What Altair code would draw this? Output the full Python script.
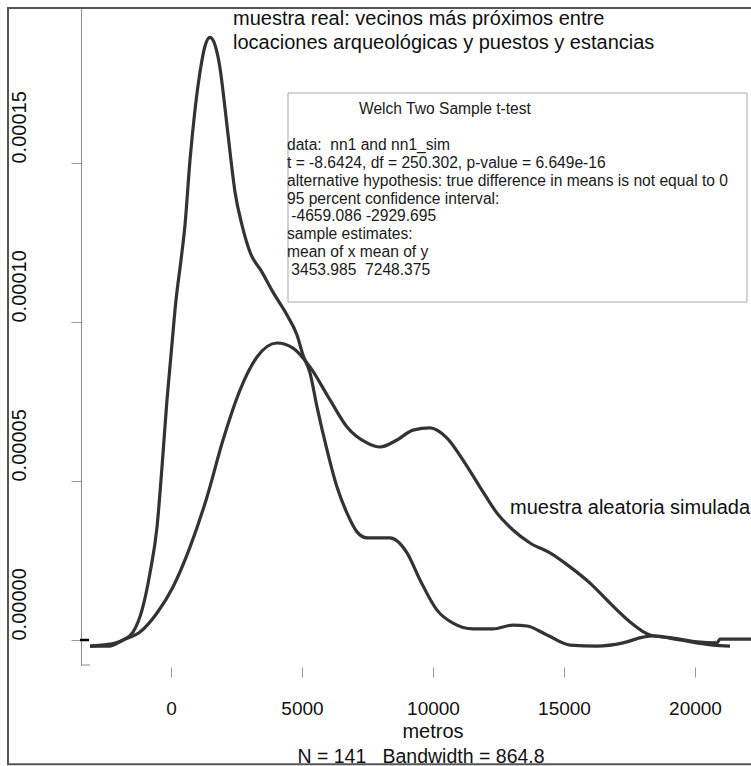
import altair as alt
import pandas as pd

# ---- data (x in metres, density in units of 1e-5) ----
real_x = [-3092, -2328, -1832, -1450, -1107, -802, -534, -344, -153, 0, 191, 382, 534, 725,
          916, 1107, 1298, 1489, 1679, 1870, 2061, 2252, 2443, 2710, 3015, 3473, 3893, 4427,
          4809, 5038, 5305, 5573, 5954, 6336, 6718, 7099, 7481, 8359, 9008, 9504, 10153,
          10763, 11527, 12290, 13053, 13588, 14351, 15229, 16260, 17252, 18015, 18397,
          19427, 20687, 21336]
real_y = [-0.19, -0.13, 0.0, 0.25, 0.94, 2.11, 3.55, 5.44, 7.55, 8.96, 10.69, 11.95, 13.05,
          15.09, 16.67, 17.86, 18.68, 18.95, 18.71, 17.99, 16.73, 15.35, 14.09, 13.05, 12.20,
          11.57, 10.94, 10.22, 9.59, 8.96, 8.40, 7.33, 5.98, 4.81, 3.99, 3.40, 3.21, 3.21,
          2.74, 1.89, 0.94, 0.53, 0.35, 0.35, 0.47, 0.44, 0.16, -0.16, -0.19, -0.09, 0.09,
          0.13, 0.0, -0.16, -0.19]

sim_x = [-3092, -2328, -1832, -1183, -534, 76, 725, 1374, 1985, 2634, 3282, 4046, 4657, 5305,
         6069, 6718, 7481, 7977, 8626, 9237, 9886, 10535, 11145, 11794, 12443, 13053, 13702,
         14466, 15229, 15992, 16756, 17519, 18282, 19160, 20076, 20840, 20950, 22137]
sim_y = [-0.19, -0.19, 0.0, 0.25, 0.85, 1.67, 2.92, 4.50, 6.29, 7.86, 8.90, 9.34, 9.18, 8.59,
         7.55, 6.70, 6.20, 6.07, 6.29, 6.60, 6.67, 6.35, 5.66, 4.81, 3.99, 3.46, 3.05, 2.74,
         2.30, 1.79, 1.16, 0.57, 0.16, 0.06, -0.06, -0.09, 0.03, 0.03]

x_ticks = [0, 5000, 10000, 15000, 20000]
y_ticks = [0, 5, 10, 15]

ZW = "\u200b"      # keeps a leading (non-breaking) space from being trimmed
NB = "\u00a0"
label_real = ["muestra real: vecinos más próximos entre",
              "locaciones arqueológicas y puestos y estancias"]
label_sim = "muestra aleatoria simulada"
test_title = "Welch Two Sample t-test"
test_lines = [
    "data:" + NB + NB + "nn1 and nn1_sim",
    "t = -8.6424, df = 250.302, p-value = 6.649e-16",
    "alternative hypothesis: true difference in means is not equal to 0",
    "95 percent confidence interval:",
    ZW + NB + "-4659.086 -2929.695",
    "sample estimates:",
    "mean of x mean of y",
    ZW + NB + "3453.985" + NB + NB + "7248.375",
]
x_title = "metros"
sub_title = "N = 141" + NB + NB + NB + "Bandwidth = 864.8"

FONT = "Liberation Sans"
W, H = 670, 657

real = pd.DataFrame({"x": real_x, "y": real_y})
sim = pd.DataFrame({"x": sim_x, "y": sim_y})

xscale = alt.Scale(domain=[-3435, 22137], nice=False, zero=False)
yscale = alt.Scale(domain=[-0.786, 19.875], nice=False, zero=False)

xaxis = alt.Axis(values=x_ticks, format="d", domain=False, grid=False, title=None,
                 tickSize=10, tickColor="#9a9a9a", tickWidth=1, offset=2,
                 labelFontSize=19, labelFont=FONT, labelColor="#111", labelPadding=22,
                 labelFlush=False, labelOverlap=False)
yaxis = alt.Axis(values=y_ticks, labelExpr="format(datum.value / 100000, '.5f')",
                 grid=False, title=None, domainColor="#8a8a8a", domainWidth=1,
                 tickSize=10, tickColor="#9a9a9a", tickWidth=1,
                 labelAngle=270, labelAlign="left", labelBaseline="alphabetic",
                 labelPadding=46, labelFontSize=20, labelFont=FONT, labelColor="#111",
                 labelFlush=False, labelOverlap=False)

line_real = alt.Chart(real).mark_line(color="#333333", strokeWidth=3.2,
                                       interpolate="monotone").encode(
    x=alt.X("x:Q", scale=xscale, axis=xaxis),
    y=alt.Y("y:Q", scale=yscale, axis=yaxis),
)
line_sim = alt.Chart(sim).mark_line(color="#333333", strokeWidth=3.2,
                                     interpolate="monotone").encode(
    x=alt.X("x:Q", scale=xscale),
    y=alt.Y("y:Q", scale=yscale),
)

one = alt.Data(values=[{"a": 1}])


def txt(text, x, y, size, align="left", color="#111"):
    return alt.Chart(one).mark_text(text=text, font=FONT, fontSize=size, align=align,
                                    baseline="alphabetic", color=color).encode(
        x=alt.value(x), y=alt.value(y))


ann_real = alt.Chart(one).mark_text(text=label_real, font=FONT, fontSize=20, align="left",
                                    baseline="alphabetic", lineHeight=23.5,
                                    color="#111").encode(x=alt.value(152), y=alt.value(17))
ann_sim = txt(label_sim, 429, 505.5, 20)

box = alt.Chart(one).mark_rect(fillOpacity=0, stroke="#a8a8a8", strokeWidth=1).encode(
    x=alt.value(207), x2=alt.value(666), y=alt.value(85), y2=alt.value(294))
box_title = txt(test_title, 278, 106.3, 15.6, color="#1a1a1a")
box_text = alt.Chart(one).mark_text(text=test_lines, font=FONT, fontSize=15.6, align="left",
                                    baseline="alphabetic", lineHeight=17.86,
                                    color="#1a1a1a").encode(x=alt.value(206), y=alt.value(142))

xt = txt(x_title, 352, 730, 20, align="center")
sub = txt(sub_title, 340, 754.5, 19.5, align="center")

dash = alt.Chart(one).mark_rule(color="#000", strokeWidth=2.5).encode(
    x=alt.value(-1), x2=alt.value(8), y=alt.value(632))
corner = alt.Chart(one).mark_rule(color="#8a8a8a", strokeWidth=1).encode(
    x=alt.value(0), x2=alt.value(9), y=alt.value(657))

frame = alt.Chart(one).mark_rect(fillOpacity=0, stroke="#555", strokeWidth=2).encode(
    x=alt.value(-73), x2=alt.value(676), y=alt.value(0), y2=alt.value(756.3))

chart = alt.layer(line_real, line_sim, ann_real, ann_sim, box, box_title, box_text,
                  xt, sub, dash, corner, frame).properties(
    width=W, height=H,
    autosize=alt.AutoSizeParams(type="none"),
    padding={"left": 81, "top": 8, "right": 0, "bottom": 101},
    background="white",
).configure_view(strokeWidth=0)

chart.save("out.html", embed_options={"renderer": "svg", "actions": False})
